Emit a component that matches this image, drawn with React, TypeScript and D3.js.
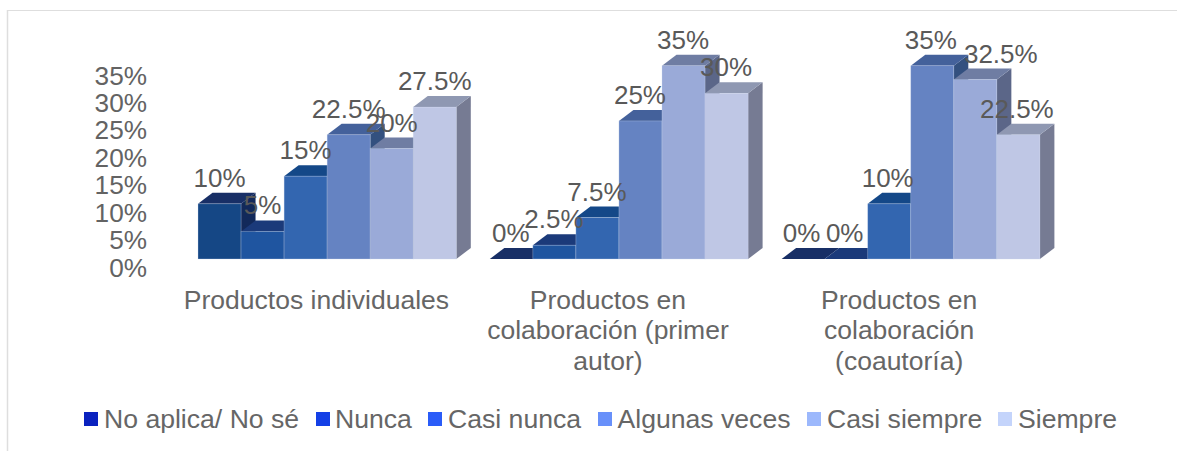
import React from "react";
import * as d3 from "d3";

const categories = [["Productos individuales"], ["Productos en", "colaboración (primer", "autor)"], ["Productos en", "colaboración", "(coautoría)"]];
const series = ["No aplica/ No sé", "Nunca", "Casi nunca", "Algunas veces", "Casi siempre", "Siempre"];
const noAplica = [10, 0, 0];
const nunca = [5, 2.5, 0];
const casiNunca = [15, 7.5, 10];
const algunasVeces = [22.5, 25, 35];
const casiSiempre = [20, 35, 32.5];
const siempre = [27.5, 30, 22.5];
const values = [noAplica, nunca, casiNunca, algunasVeces, casiSiempre, siempre];
const ticks = [0, 5, 10, 15, 20, 25, 30, 35];
const frontColors = ["#154785", "#1f55a0", "#3366b0", "#6583c2", "#9aaad8", "#bfc7e5"];
const topColors = ["#182f66", "#1b3a7a", "#144888", "#44619b", "#6f7da3", "#8f98b2"];
const sideColors = ["#12295a", "#16306a", "#123d75", "#33507f", "#5b6688", "#767b93"];
const legendColors = ["#0a22bf", "#1440e6", "#2a5cf8", "#6890fa", "#9cb8fc", "#c4d4fb"];
const legendX = [84, 316, 428, 598, 807, 998];
const legendTextX = [104, 335, 448, 617.5, 827, 1018];
const groupShift = [0, -0.5, -1.5];
const fmt = (v: number) => `${v}%`;

export default function App() {
  const y = d3.scaleLinear().domain([0, 35]).range([259, 65.7]);
  const yTick = d3.scaleLinear().domain([0, 35]).range([276.5, 84.5]);
  const gx = d3.scaleBand<number>().domain([0, 1, 2]).range([198, 198 + 875.4]);
  const barW = 43.05;
  const dx = 14.5, dy = 11;
  const font = "'Liberation Sans', Arial, sans-serif";
  const bars: React.ReactNode[] = [];
  const labels: React.ReactNode[] = [];
  categories.forEach((_, g) => {
    const x0 = gx(g)!;
    series.forEach((_, s) => {
      const v = values[s][g];
      const x = x0 + s * barW;
      const top = y(v), base = y(0);
      bars.push(
        <g key={`${g}-${s}`}>
          <path d={`M${x + barW},${top} L${x + barW + dx},${top - dy} L${x + barW + dx},${base - dy} L${x + barW},${base} Z`} fill={sideColors[s]} />
          <path d={`M${x},${top} L${x + dx},${top - dy} L${x + barW + dx},${top - dy} L${x + barW},${top} Z`} fill={topColors[s]} />
          {v > 0 && <rect x={x} y={top} width={barW} height={base - top} fill={frontColors[s]} stroke="#ccd6ee" strokeOpacity={0.45} strokeWidth={0.7} />}
        </g>
      );
      const moved = g === 2 && s === 4 ? 27 : 0;
      labels.push(
        <text key={`l${g}-${s}`} x={x + barW / 2 + groupShift[g] + moved} y={top - 17} textAnchor="middle" fontSize={26} fill="#595959" fontFamily={font}>{fmt(v)}</text>
      );
    });
  });
  return (
    <svg width={1177} height={451} style={{ position: "absolute", left: 0, top: 0 }}>
      <rect width={1177} height={451} fill="#fff" />
      <line x1={7} x2={1177} y1={10.5} y2={10.5} stroke="#dedede" strokeWidth={1} />
      <line x1={7.5} x2={7.5} y1={10} y2={451} stroke="#dedede" strokeWidth={1.5} />
      {ticks.map(t => (
        <text key={t} x={147} y={yTick(t)} textAnchor="end" fontSize={26.2} fill="#636363" fontFamily={font}>{fmt(t)}</text>
      ))}
      {bars}
      {labels}
      {categories.map((lines, g) => {
        const cx = gx(g)! + barW * 3 - 10.7 + groupShift[g] * 0.6;
        return lines.map((ln, i) => (
          <text key={`${g}-${i}`} x={cx} y={308.5 + i * 30.5} textAnchor="middle" fontSize={26.5} fill="#666666" fontFamily={font}>{ln}</text>
        ));
      })}
      {series.map((s, i) => (
        <g key={s}>
          <rect x={legendX[i]} y={412} width={14} height={14} fill={legendColors[i]} />
          <text x={legendTextX[i]} y={428} fontSize={26.6} fill="#666666" fontFamily={font}>{s}</text>
        </g>
      ))}
    </svg>
  );
}
